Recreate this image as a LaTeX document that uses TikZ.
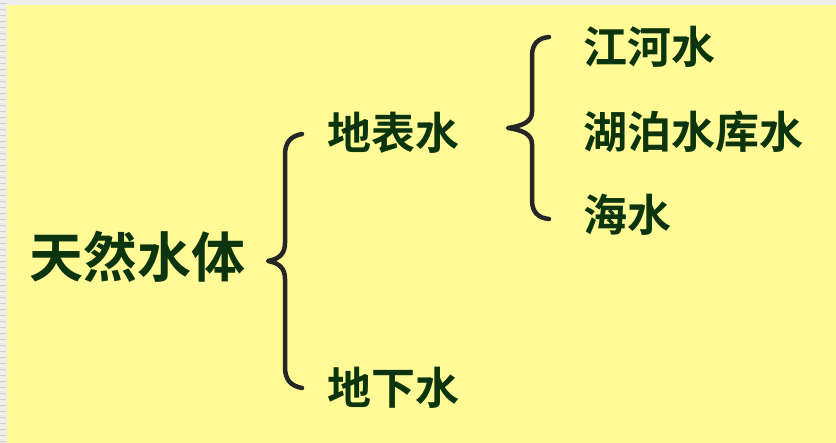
\documentclass[tikz,border=0pt]{standalone}
\usepackage{fontspec}
\newfontfamily\cjk{Noto Sans CJK SC}[BoldFont={Noto Sans CJK SC Bold}]
\definecolor{bgyellow}{RGB}{255,250,150}
\definecolor{edgegray}{RGB}{238,238,238}
\definecolor{stripe}{RGB}{210,210,210}
\definecolor{txtgreen}{RGB}{12,52,14}
\tikzset{
  bigtxt/.style={font=\cjk\bfseries\fontsize{54}{54}\selectfont, text=txtgreen, inner sep=0pt, anchor=west},
  midtxt/.style={font=\cjk\bfseries\fontsize{44}{44}\selectfont, text=txtgreen, inner sep=0pt, anchor=west},
  bracestroke/.style={line width=4.5pt, draw=black!85, line cap=round, line join=round}
}
\begin{document}
\begin{tikzpicture}[x=1pt,y=-1pt]
\useasboundingbox (0,0) rectangle (836,443);
\fill[edgegray] (0,0) rectangle (836,443);
\foreach \yy in {3,9,...,443} {\fill[stripe] (0,\yy) rectangle (6,\yy+1.5);}
\fill[bgyellow] (7,5) rectangle (836,443);
% texts
\node[bigtxt] (root) at (29,257) {天然水体};
\node[midtxt] (surf) at (327,133) {地表水};
\node[midtxt] (under) at (327,388) {地下水};
\node[midtxt] (river) at (583,47) {江河水};
\node[midtxt] (lake) at (583,132) {湖泊水库水};
\node[midtxt] (sea) at (583,215) {海水};
% big brace
\coordinate (bt) at (302,134);
\coordinate (bm) at (268,261);
\coordinate (bb) at (302,388);
\draw[bracestroke] (bt) .. controls (291,136) and (285,142) .. (285,155) -- (285,243)
  .. controls (285,254) and (279,259) .. (bm)
  .. controls (279,263) and (285,268) .. (285,279) -- (285,367)
  .. controls (285,380) and (291,386) .. (bb);
% small brace
\coordinate (st) at (549,37);
\coordinate (sm) at (508,128);
\coordinate (sb) at (549,219);
\draw[bracestroke] (st) .. controls (538,38) and (532,44) .. (532,56) -- (532,112)
  .. controls (532,122) and (522,126) .. (sm)
  .. controls (522,130) and (532,134) .. (532,144) -- (532,200)
  .. controls (532,212) and (538,218) .. (sb);
\end{tikzpicture}
\end{document}
